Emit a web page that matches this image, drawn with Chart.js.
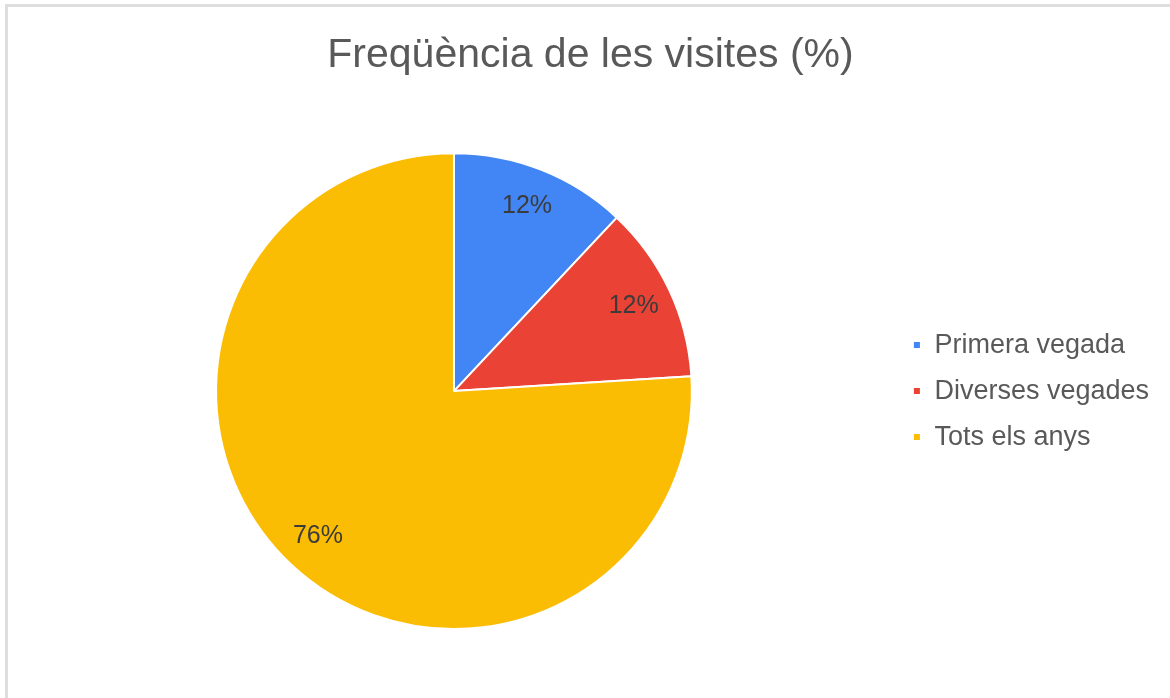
<!DOCTYPE html>
<html>
<head>
<meta charset="utf-8">
<script src="https://cdn.jsdelivr.net/npm/chart.js@4"></script>
<style>
  html, body { margin: 0; padding: 0; background: #fff; overflow: hidden; }
  #frame { position: absolute; left: 5px; top: 4px; width: 1200px; height: 740px; border: 3px solid #dedede; }
  #wrap { position: absolute; left: 0; top: 0; width: 1170px; height: 698px; }
</style>
</head>
<body>
<div id="frame"></div>
<div id="wrap"><canvas id="pie"></canvas></div>
<script>
var categories = ["Primera vegada", "Diverses vegades", "Tots els anys"];
var values = [12, 12, 76];
var colors = ["#4285f4", "#ea4335", "#fbbc04"];

// percent labels drawn inside each slice
var sliceLabels = {
  id: 'sliceLabels',
  afterDatasetsDraw: function(chart) {
    var ctx = chart.ctx;
    var meta = chart.getDatasetMeta(0);
    ctx.save();
    ctx.font = '25px "Liberation Sans", Arial, sans-serif';
    ctx.fillStyle = '#3b3b3b';
    ctx.textAlign = 'center';
    ctx.textBaseline = 'middle';
    meta.data.forEach(function(arc, i) {
      var mid = (arc.startAngle + arc.endAngle) / 2;
      var r = arc.outerRadius * 0.835;
      ctx.fillText(values[i] + '%', arc.x + Math.cos(mid) * r, arc.y + Math.sin(mid) * r);
    });
    ctx.restore();
  }
};

// small nudges so title and legend sit where the original has them
var nudge = {
  id: 'nudge',
  afterLayout: function(chart) {
    if (chart.titleBlock) { chart.titleBlock.left += 4; chart.titleBlock.right += 4; }
    if (chart.legend) { chart.legend.left -= 6; chart.legend.right -= 6; }
  }
};

new Chart(document.getElementById("pie"), {
  type: 'pie',
  data: {
    labels: categories,
    datasets: [{
      data: values,
      backgroundColor: colors,
      borderColor: '#ffffff',
      borderWidth: 2
    }]
  },
  plugins: [sliceLabels, nudge],
  options: {
    responsive: true,
    maintainAspectRatio: false,
    animation: false,
    layout: { padding: { left: 8, right: 5, top: 0, bottom: 68 } },
    plugins: {
      title: {
        display: true,
        text: 'Freqüència de les visites (%)',
        color: '#595959',
        font: { family: '"Liberation Sans", Arial, sans-serif', size: 41, weight: 'normal' },
        padding: { top: 31, bottom: 72 }
      },
      legend: {
        position: 'right',
        fullSize: false,
        labels: {
          boxWidth: 8,
          boxHeight: 8,
          padding: 19,
          color: '#595959',
          font: { family: '"Liberation Sans", Arial, sans-serif', size: 27 }
        }
      },
      tooltip: { enabled: false }
    }
  }
});
</script>
</body>
</html>
